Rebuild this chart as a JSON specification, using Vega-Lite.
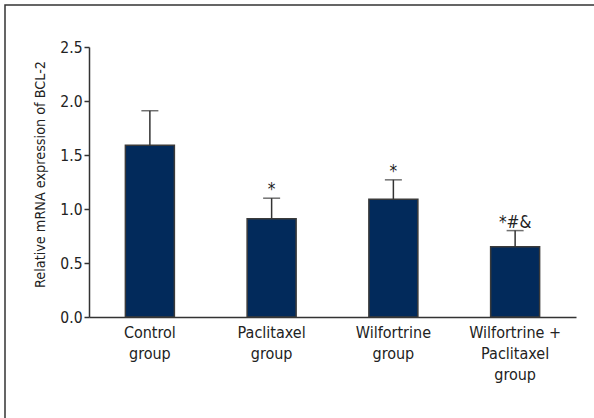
{
  "$schema": "https://vega.github.io/schema/vega-lite/v6.json",
  "width": 620,
  "height": 430,
  "autosize": "none",
  "padding": {"left": 5, "top": 5, "right": -31, "bottom": -17},
  "background": "white",
  "config": {
    "view": {"stroke": "#333333", "strokeWidth": 1.5},
    "font": "DejaVu Sans Condensed, sans-serif",
    "text": {"font": "DejaVu Sans Condensed, sans-serif"}
  },
  "data": {
    "values": [
      {"group": "Control group", "mean": 1.59, "upper": 1.91, "sig": ""},
      {"group": "Paclitaxel group", "mean": 0.91, "upper": 1.10, "sig": "*"},
      {"group": "Wilfortrine group", "mean": 1.09, "upper": 1.27, "sig": "*"},
      {"group": "Wilfortrine + Paclitaxel group", "mean": 0.65, "upper": 0.80, "sig": "*#&"}
    ]
  },
  "encoding": {
    "x": {
      "field": "group",
      "type": "nominal",
      "sort": null,
      "scale": {"range": [84, 571], "paddingInner": 0, "paddingOuter": 0},
      "axis": {
        "title": null,
        "orient": "bottom",
        "offset": -118,
        "domainColor": "#333333",
        "domainWidth": 1.5,
        "ticks": false,
        "tickSize": 0,
        "labelAngle": 0,
        "labelPadding": 7,
        "labelFontSize": 16,
        "labelColor": "#222222",
        "labelLineHeight": 21,
        "labelExpr": "datum.label == 'Wilfortrine + Paclitaxel group' ? ['Wilfortrine +', 'Paclitaxel', 'group'] : split(datum.label, ' ')"
      }
    }
  },
  "layer": [
    {
      "mark": {"type": "bar", "width": 49, "color": "#022a5b", "stroke": "#3a3a3a", "strokeWidth": 1.5},
      "encoding": {
        "y": {
          "field": "mean",
          "type": "quantitative",
          "scale": {"domain": [0, 2.5], "range": [312, 42], "nice": false},
          "axis": {
            "title": "Relative mRNA expression of BCL-2",
            "orient": "left",
            "offset": -84,
            "values": [0, 0.5, 1, 1.5, 2, 2.5],
            "format": ".1f",
            "grid": false,
            "domainColor": "#333333",
            "domainWidth": 1.5,
            "tickColor": "#333333",
            "tickWidth": 1.5,
            "tickSize": 5,
            "labelPadding": 2,
            "labelFontSize": 15.5,
            "labelColor": "#222222",
            "titleFontSize": 14.3,
            "titleFontWeight": "normal",
            "titleColor": "#222222",
            "titlePadding": 12,
            "titleY": 169
          }
        }
      }
    },
    {
      "mark": {"type": "rule", "color": "#333333", "strokeWidth": 1.5},
      "encoding": {
        "y": {"field": "mean", "type": "quantitative"},
        "y2": {"field": "upper"}
      }
    },
    {
      "mark": {"type": "tick", "color": "#333333", "size": 17, "thickness": 1.5},
      "encoding": {
        "y": {"field": "upper", "type": "quantitative"}
      }
    },
    {
      "mark": {"type": "text", "dy": -3, "baseline": "alphabetic", "fontSize": 17, "color": "#222222"},
      "encoding": {
        "y": {"field": "upper", "type": "quantitative"},
        "text": {"field": "sig"}
      }
    }
  ]
}
